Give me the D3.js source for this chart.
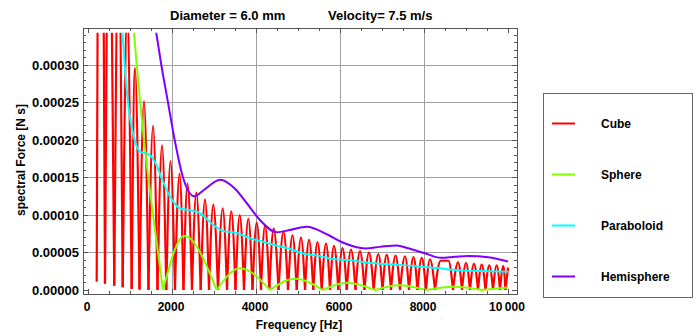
<!DOCTYPE html>
<html>
<head>
<meta charset="utf-8">
<title>Spectral force vs frequency</title>
<script src="https://d3js.org/d3.v7.min.js"></script>
<style>
  body { margin: 0; background: #fff; }
  text { font-family: "Liberation Sans", Arial, sans-serif; font-weight: bold; font-size: 12px; fill: #000; }
</style>
</head>
<body>
<div id="chart"></div>
<script>
// values: frequency in Hz, spectral force in N s
const cubeFreq = [207, 307, 405, 517, 626, 726, 826, 933, 1040, 1119, 1226, 1333, 1440, 1548, 1655, 1762,
  1864, 1964, 2071, 2179, 2274, 2369, 2476, 2579, 2683, 2786, 2881, 2983, 3095, 3207, 3310, 3412, 3512, 3612,
  3714, 3817, 3917, 4017, 4119, 4214, 4317, 4421, 4536, 4655, 4762, 4869, 4969, 5071, 5167, 5262, 5364, 5464,
  5564, 5667, 5762, 5857, 5960, 6060, 6160, 6262, 6369, 6476, 6583, 6690, 6802, 6912, 7012, 7112, 7214, 7321,
  7429, 7548, 7643, 7750, 7845, 7945, 8048, 8143, 8262, 8393, 8583, 8690, 8810, 8905, 9000, 9095, 9190, 9286,
  9374, 9464, 9555, 9643, 9731, 9810, 9888, 9940, 10000];
const cubeForce = [0.000011, 0.00110, 0.0000085, 0.00066, 0.0000058, 0.00047, 0.0000038, 0.000365, 0.0000015,
  0.000296, 0.0000005, 0.000252, 0, 0.000219, 0, 0.000193, 0, 0.000172, 0, 0.000155, 0, 0.000142, 0, 0.000130,
  0, 0.000121, 0, 0.000114, 0, 0.000109, 0, 0.000105, 0, 0.000100, 0, 0.000095, 0, 0.000090, 0, 0.000086, 0,
  0.000082, 0, 0.000078, 0, 0.000073, 0, 0.000070, 0, 0.000067, 0, 0.000064, 0, 0.000062, 0, 0.000059, 0,
  0.000056, 0, 0.000054, 0, 0.000052, 0, 0.000050, 0, 0.000048, 0, 0.000047, 0, 0.000046, 0, 0.000045, 0,
  0.000044, 0, 0.000043, 0, 0.000041, 0, 0.000039, 0.000039, 0, 0.000037, 0, 0.000036, 0, 0.000035, 0,
  0.000034, 0, 0.000033, 0, 0.000033, 0, 0.000032, 0, 0.000030];

const sphereFreq = [1000, 1095, 1333, 1548, 1786, 2293, 3063, 3619, 4333, 4929, 5588, 6159, 6833, 7400, 8064,
  8700, 9374, 10000];
const sphereForce = [0.00041, 0.000343, 0.000200, 0.000100, 0, 0.000072, 0, 0.0000289, 0, 0.0000150, 0,
  0.0000098, 0, 0.0000065, 0, 0.0000042, 0, 0.0000032];

const paraFreq = [800, 873, 952, 1111, 1250, 1450, 1600, 1746, 1950, 2183, 2450, 2650, 2984, 3222, 3540, 3857,
  4254, 4500, 4730, 5167, 5500, 5881, 6198, 6674, 7100, 7388, 7945, 8381, 8659, 9174, 9374, 10000];
const paraForce = [0.00036, 0.00030, 0.00025, 0.00020, 0.000184, 0.000181, 0.000170, 0.000150, 0.000125,
  0.000109, 0.000106, 0.000103, 0.0000867, 0.0000785, 0.0000760, 0.0000690, 0.0000630, 0.0000590, 0.0000560,
  0.0000480, 0.0000455, 0.0000410, 0.0000400, 0.0000364, 0.0000345, 0.0000335, 0.0000311, 0.0000289,
  0.0000270, 0.0000255, 0.0000253, 0.0000244];

const hemiFreq = [1600, 1746, 1905, 2064, 2262, 2530, 2750, 3143, 3500, 3778, 4095, 4492, 4810, 5206, 5722,
  6079, 6600, 6950, 7350, 7627, 8024, 8400, 8738, 9055, 9531, 10000];
const hemiForce = [0.000352, 0.000300, 0.000250, 0.000200, 0.000150, 0.000125, 0.000133, 0.000147, 0.000135,
  0.000116, 0.0000933, 0.0000770, 0.0000800, 0.0000844, 0.0000733, 0.0000630, 0.0000555, 0.0000575,
  0.0000595, 0.0000556, 0.0000489, 0.0000430, 0.0000444, 0.0000455, 0.0000436, 0.0000380];

const seriesNames = ["Cube", "Sphere", "Paraboloid", "Hemisphere"];
const seriesColors = ["#ff0000", "#80ff00", "#00ffff", "#8000ff"];

const xTicks = [0, 2000, 4000, 6000, 8000, 10000];
const xTickLabels = ["0", "2000", "4000", "6000", "8000", "10\u2009000"];
const yTicks = [0, 0.00005, 0.0001, 0.00015, 0.0002, 0.00025, 0.0003];
const yTickLabels = ["0.00000", "0.00005", "0.00010", "0.00015", "0.00020", "0.00025", "0.00030"];

// layout
const frame = { left: 83, right: 517, top: 28, bottom: 294 };

const x = d3.scaleLinear().domain([0, 10000]).range([88, 508]);
const y = d3.scaleLinear().domain([0, 0.0003]).range([290, 65]);

const svg = d3.select("#chart")
  .append("svg")
    .attr("width", 696)
    .attr("height", 336);

svg.append("clipPath")
    .attr("id", "plotclip")
  .append("rect")
    .attr("x", frame.left)
    .attr("y", y(0.000343))
    .attr("width", frame.right - frame.left)
    .attr("height", frame.bottom - y(0.000343));

// grid
const grid = svg.append("g")
    .attr("stroke", "#a0a0a0")
    .attr("stroke-width", 1)
    .attr("shape-rendering", "crispEdges");

grid.selectAll(".vg")
  .data(xTicks.filter(d => d > 0 && d < 10000))
  .enter().append("line")
    .attr("x1", d => x(d)).attr("x2", d => x(d))
    .attr("y1", frame.top).attr("y2", frame.bottom);

grid.selectAll(".hg")
  .data(yTicks.filter(d => d > 0))
  .enter().append("line")
    .attr("x1", frame.left).attr("x2", frame.right)
    .attr("y1", d => y(d)).attr("y2", d => y(d));

// curves: split at local minima so troughs stay sharp
function splitAtMinima(fs, vs) {
  const pts = fs.map((f, i) => [f, vs[i]]);
  const parts = [];
  let cur = [pts[0]];
  for (let i = 1; i < pts.length; i++) {
    cur.push(pts[i]);
    const isMin = i < pts.length - 1 && pts[i][1] <= pts[i - 1][1] && pts[i][1] <= pts[i + 1][1];
    if (isMin) { parts.push(cur); cur = [pts[i]]; }
  }
  if (cur.length > 1) parts.push(cur);
  return parts;
}

const line = d3.line()
  .x(d => x(d[0]))
  .y(d => y(d[1]))
  .curve(d3.curveMonotoneX);

const plot = svg.append("g").attr("clip-path", "url(#plotclip)")
    .attr("fill", "none")
    .attr("stroke-linejoin", "round");

plot.selectAll(".cube")
  .data(splitAtMinima(cubeFreq, cubeForce))
  .enter().append("path")
    .attr("d", line)
    .attr("stroke", seriesColors[0])
    .attr("stroke-width", 2.2);

plot.selectAll(".sphere")
  .data(splitAtMinima(sphereFreq, sphereForce))
  .enter().append("path")
    .attr("d", line)
    .attr("stroke", seriesColors[1])
    .attr("stroke-width", 2);

plot.append("path")
    .attr("d", line(paraFreq.map((f, i) => [f, paraForce[i]])))
    .attr("stroke", seriesColors[2])
    .attr("stroke-width", 2);

plot.append("path")
    .attr("d", line(hemiFreq.map((f, i) => [f, hemiForce[i]])))
    .attr("stroke", seriesColors[3])
    .attr("stroke-width", 2);

// frame and ticks (inward, all four sides)
svg.append("rect")
    .attr("x", frame.left + 0.5).attr("y", frame.top + 0.5)
    .attr("width", frame.right - frame.left).attr("height", frame.bottom - frame.top)
    .attr("fill", "none").attr("stroke", "#555");

const ticks = svg.append("g").attr("stroke", "#555").attr("shape-rendering", "crispEdges");
const xMinor = d3.range(0, 10001, 500);
const yMinor = d3.range(0, 35).map(i => i * 0.00001);

ticks.selectAll(".xt")
  .data(xMinor)
  .enter().append("g")
    .each(function(d) {
      const len = d % 2000 === 0 ? 5 : 3;
      const g = d3.select(this);
      g.append("line").attr("x1", x(d)).attr("x2", x(d)).attr("y1", frame.bottom).attr("y2", frame.bottom - len);
      g.append("line").attr("x1", x(d)).attr("x2", x(d)).attr("y1", frame.top).attr("y2", frame.top + len);
    });

ticks.selectAll(".yt")
  .data(yMinor)
  .enter().append("g")
    .each(function(d, i) {
      const len = i % 5 === 0 ? 5 : 3;
      const g = d3.select(this);
      g.append("line").attr("x1", frame.left).attr("x2", frame.left + len).attr("y1", y(d)).attr("y2", y(d));
      g.append("line").attr("x1", frame.right).attr("x2", frame.right - len).attr("y1", y(d)).attr("y2", y(d));
    });

// tick labels
svg.selectAll(".xl")
  .data(xTicks)
  .enter().append("text")
    .attr("x", d => x(d) - 1)
    .attr("y", 311)
    .attr("text-anchor", "middle")
    .text((d, i) => xTickLabels[i]);

svg.selectAll(".yl")
  .data(yTicks)
  .enter().append("text")
    .attr("x", 79)
    .attr("y", d => y(d) + 4.5)
    .attr("text-anchor", "end")
    .style("font-size", "13px")
    .text((d, i) => yTickLabels[i]);

// titles
svg.append("text").attr("x", 170).attr("y", 20).style("font-size", "13px").text("Diameter = 6.0 mm");
svg.append("text").attr("x", 328).attr("y", 20).style("font-size", "13px").text("Velocity= 7.5 m/s");

svg.append("text")
    .attr("x", 299).attr("y", 329)
    .attr("text-anchor", "middle")
    .text("Frequency [Hz]");

svg.append("text")
    .attr("transform", "translate(25,160) rotate(-90)")
    .attr("text-anchor", "middle")
    .text("spectral Force [N s]");

// legend
svg.append("rect")
    .attr("x", 543.5).attr("y", 93.5)
    .attr("width", 149).attr("height", 204)
    .attr("fill", "#fff").attr("stroke", "#666");

const legend = svg.selectAll(".legend")
  .data(seriesNames)
  .enter().append("g")
    .attr("transform", (d, i) => "translate(0," + (123.5 + i * 51) + ")");

legend.append("line")
    .attr("x1", 552).attr("x2", 575)
    .attr("stroke", (d, i) => seriesColors[i])
    .attr("stroke-width", 2);

legend.append("text")
    .attr("x", 601).attr("y", 4)
    .text(d => d);
</script>
</body>
</html>
